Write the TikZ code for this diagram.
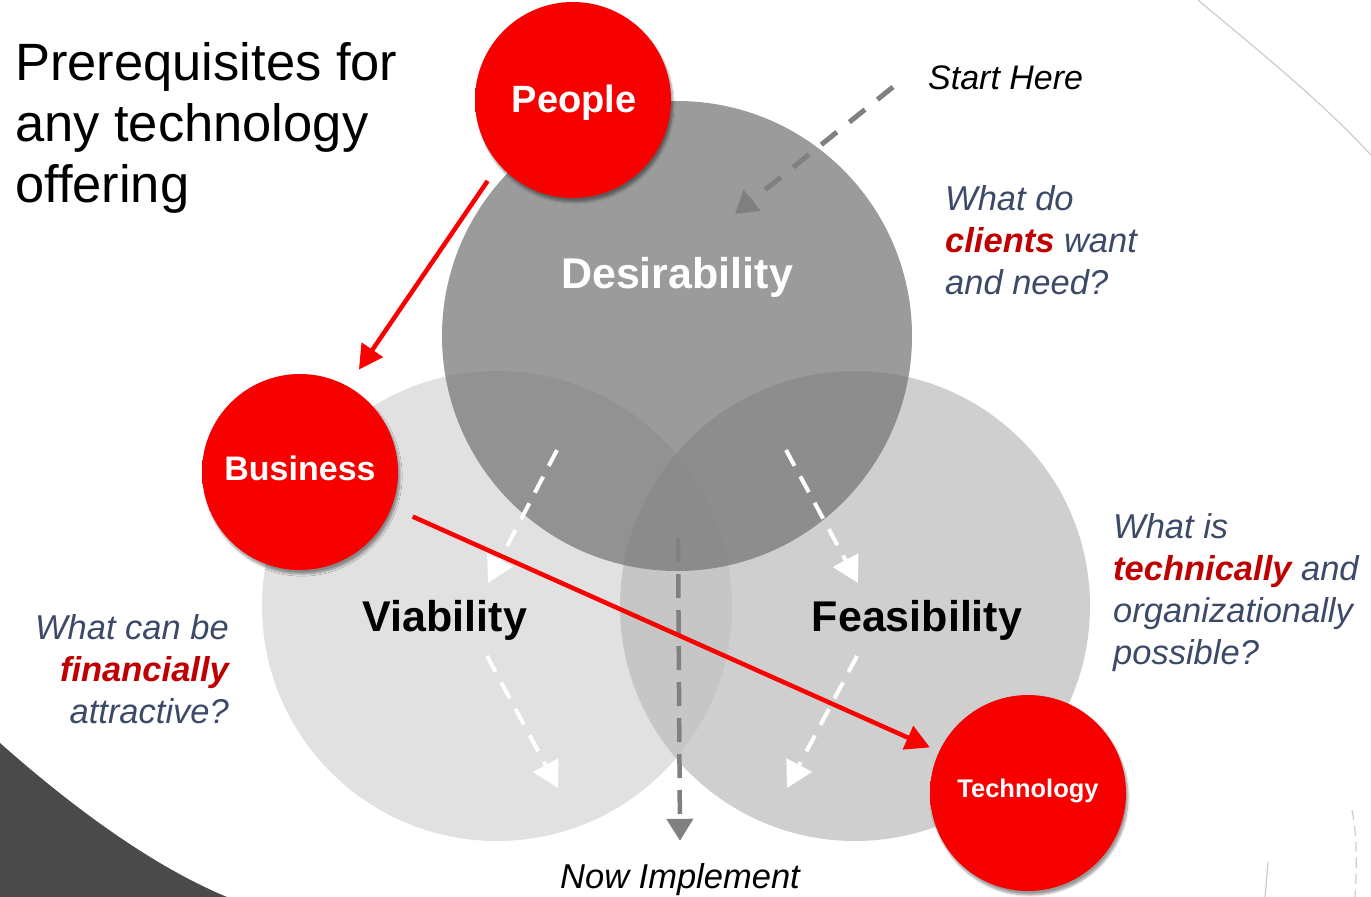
\documentclass[tikz,border=0pt]{standalone}
\usepackage{fontspec}
\setmainfont{Liberation Sans}
\usetikzlibrary{arrows.meta,shadows.blur}
\definecolor{txtblue}{HTML}{3C4A68}
\definecolor{dred}{HTML}{C00000}
\definecolor{vcol}{HTML}{E1E1E1}
\definecolor{fcol}{HTML}{BABABA}
\definecolor{dcol}{HTML}{767676}
\definecolor{rb1}{HTML}{F60000}
\definecolor{rb2}{HTML}{EA0000}
\definecolor{rb3}{HTML}{CC0000}
\definecolor{arrgray}{HTML}{808080}
\definecolor{darkshape}{HTML}{4A4A4A}
\definecolor{lineg}{HTML}{CCCCCC}
\pgfdeclareradialshading{redball}{\pgfpoint{0bp}{0bp}}{color(0bp)=(rb1); color(40bp)=(rb1); color(46bp)=(rb2); color(50bp)=(rb3)}
\tikzset{
  bigc/.style={circle, inner sep=0pt, minimum size=470pt},
  redc/.style={circle, inner sep=0pt, minimum size=196pt, shading=redball,
    blur shadow={shadow xshift=2pt, shadow yshift=-4pt, shadow opacity=40, shadow blur steps=6}},
  redlbl/.style={text=white, font=\bfseries},
  redarrow/.style={draw={rgb,255:red,250;green,0;blue,0}, line width=4.5pt,
    -{Triangle[length=24pt,width=25pt]}},
  whitearrow/.style={draw=white, line width=4pt, dash pattern=on 18pt off 12pt,
    -{Triangle[length=26pt,width=28pt,fill=white]}},
  grayarrow/.style={draw=arrgray, line width=5pt, dash pattern=on 20pt off 16pt,
    -{Triangle[length=22pt,width=26pt]}},
  qtext/.style={text=txtblue, font=\fontsize{34.5}{42}\selectfont\itshape, inner sep=0pt},
  biglbl/.style={font=\fontsize{43}{50}\selectfont\bfseries, inner sep=0pt},
  titletxt/.style={anchor=base west, inner sep=0pt, font=\fontsize{52.5}{61}\selectfont},
}
\begin{document}
\begin{tikzpicture}[x=1pt,y=-1pt]
\useasboundingbox (0,0) rectangle (1371,897);
% background decorations
\fill[darkshape] (0,743) .. controls (70,805) and (150,865) .. (227,897) -- (0,897) -- cycle;
\draw[lineg, line width=1.2pt] (1198,0) .. controls (1260,52) and (1320,100) .. (1371,155);
\draw[lineg, line width=1.2pt] (1268,862) .. controls (1267,875) and (1266,886) .. (1265,897);
\draw[lineg, line width=1.2pt, dash pattern=on 10pt off 6pt] (1352,810) .. controls (1357,835) and (1357,865) .. (1355,897);
% big circles
\node[bigc, fill=vcol] (via) at (497,606) {};
\node[bigc, fill=fcol, fill opacity=0.69] (fea) at (855,606) {};
\node[bigc, fill=dcol, fill opacity=0.73] (des) at (677,336) {};
% labels in circles
\node[biglbl, text=white, anchor=base] (deslbl) at (677,288) {Desirability};
\node[biglbl, text=black, anchor=base] (vialbl) at (445,631) {Viability};
\node[biglbl, text=black, anchor=base] (fealbl) at (917,631) {Feasibility};
% white dashed arrows
\coordinate (w1s) at (557,450); \coordinate (w1e) at (488,583);
\coordinate (w2s) at (786,450); \coordinate (w2e) at (858,583);
\coordinate (w3s) at (487,656); \coordinate (w3e) at (558,788);
\coordinate (w4s) at (857,656); \coordinate (w4e) at (787,788);
\draw[whitearrow] (w1s) -- (w1e);
\draw[whitearrow] (w2s) -- (w2e);
\draw[whitearrow] (w3s) -- (w3e);
\draw[whitearrow] (w4s) -- (w4e);
% implement arrow
\coordinate (imps) at (678,538);
\node[font=\fontsize{34.5}{40}\selectfont\itshape, anchor=base, inner sep=0pt] (impl) at (680,888) {Now Implement};
\draw[grayarrow, line width=4.5pt, dash pattern=on 24pt off 12pt] (imps) -- ([yshift=22pt]impl.north);
% start here
\node[font=\fontsize{34}{40}\selectfont\itshape, anchor=base west, inner sep=0pt] (start) at (928,89) {Start Here};
\coordinate (shs) at (893,87); \coordinate (she) at (735,214);
\draw[grayarrow] (shs) -- (she);
% title
\node[titletxt] (t1) at (15,80) {Prerequisites for};
\node[titletxt] (t2) at (15,141) {any technology};
\node[titletxt] (t3) at (15,202) {offering};
% question texts
\node[qtext, anchor=base west] (q1a) at (945,210) {What do};
\node[qtext, anchor=base west] (q1b) at (945,252) {\textcolor{dred}{\bfseries clients} want};
\node[qtext, anchor=base west] (q1c) at (945,294) {and need?};
\node[qtext, anchor=base west] (q2a) at (1113,538) {What is};
\node[qtext, anchor=base west] (q2b) at (1113,580) {\textcolor{dred}{\bfseries technically} and};
\node[qtext, anchor=base west] (q2c) at (1113,622) {organizationally};
\node[qtext, anchor=base west] (q2d) at (1113,664) {possible?};
\node[qtext, anchor=base east] (q3a) at (229,639) {What can be};
\node[qtext, anchor=base east] (q3b) at (229,681) {\textcolor{dred}{\bfseries financially}};
\node[qtext, anchor=base east] (q3c) at (229,723) {attractive?};
% red circles
\node[redc] (ppl) at (573,100) {};
\node[redc] (bus) at (300,472) {};
\node[redc] (tech) at (1028,793) {};
\node[redlbl, font=\fontsize{38}{40}\selectfont\bfseries, anchor=base] (ppllbl) at (574,112) {People};
\node[redlbl, font=\fontsize{34}{40}\selectfont\bfseries, anchor=base] (buslbl) at (300,480) {Business};
\node[redlbl, font=\fontsize{25.5}{30}\selectfont\bfseries, anchor=base] (techlbl) at (1028,797) {Technology};
% red arrows
\draw[redarrow, shorten <=20pt, shorten >=20pt] (ppl.221) -- (bus.61);
\draw[redarrow, shorten <=23pt, shorten >=10pt] (bus.-21) -- (tech.155);
\end{tikzpicture}
\end{document}
